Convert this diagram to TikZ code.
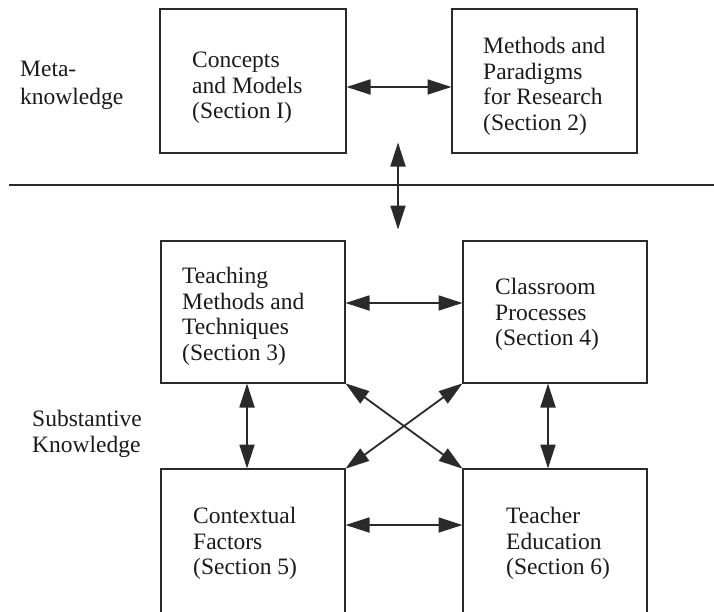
\documentclass[tikz,border=0pt]{standalone}
\usepackage{fontspec}
\setmainfont{Liberation Serif}
\usetikzlibrary{arrows.meta}
\definecolor{ink}{HTML}{2A2A2A}
\definecolor{txt}{HTML}{1A1A1A}
\tikzset{
  box/.style={draw=ink, line width=2.6pt, rectangle, inner sep=0pt, outer sep=0pt},
  lbl/.style={anchor=north west, inner sep=0pt, align=left, text=txt,
              font=\fontsize{23.5}{25.5}\selectfont},
  arr/.style={draw=ink, line width=1.8pt, {Triangle[length=24pt,width=15pt]}-{Triangle[length=24pt,width=15pt]}, shorten <=0.5pt, shorten >=0.5pt},
  rule/.style={draw=ink, line width=2.6pt}
}
\begin{document}
\begin{tikzpicture}[x=1pt,y=-1pt]
\useasboundingbox (0,0) rectangle (714,611);
% boxes
\node[box, minimum width=186pt, minimum height=144pt] (concepts) at (253,81) {};
\node[box, minimum width=185pt, minimum height=144pt] (methods) at (544.5,81) {};
\node[box, minimum width=184pt, minimum height=142pt] (teaching) at (253,312) {};
\node[box, minimum width=184pt, minimum height=142pt] (classroom) at (555,312) {};
\node[box, minimum width=184pt, minimum height=151pt] (context) at (253,544.5) {};
\node[box, minimum width=184pt, minimum height=151pt] (teacher) at (555,544.5) {};
% box texts
\node[lbl] (tconcepts) at (192,52) {Concepts\\and Models\\(Section I)};
\node[lbl] (tmethods) at (483,37) {Methods and\\Paradigms\\for Research\\(Section 2)};
\node[lbl] (tteaching) at (182,267) {Teaching\\Methods and\\Techniques\\(Section 3)};
\node[lbl] (tclassroom) at (495,278) {Classroom\\Processes\\(Section 4)};
\node[lbl] (tcontext) at (193,507) {Contextual\\Factors\\(Section 5)};
\node[lbl] (tteacher) at (506,507) {Teacher\\Education\\(Section 6)};
% side labels
\node[lbl, font=\fontsize{23.5}{28}\selectfont] (meta) at (20,61) {Meta-\\knowledge};
\node[lbl] (subst) at (32,410) {Substantive\\Knowledge};
% divider
\coordinate (ruleL) at (9,185);
\coordinate (ruleR) at (714,185);
\draw[rule] (ruleL) -- (ruleR);
% central vertical arrow
\coordinate (vtop) at (398,142);
\coordinate (vbot) at (398,230);
\draw[arr] (vtop) -- (vbot);
% connectors
\draw[arr] ([yshift=-6pt]concepts.east) -- ([yshift=-6pt]methods.west);
\draw[arr] ([yshift=9pt]teaching.east) -- ([yshift=9pt]classroom.west);
\draw[arr] ([yshift=19.5pt]context.east) -- ([yshift=19.5pt]teacher.west);
\draw[arr] ([xshift=-6pt]teaching.south) -- ([xshift=-6pt]context.north);
\draw[arr] ([xshift=-7pt]classroom.south) -- ([xshift=-7pt]teacher.north);
\draw[arr] (teaching.south east) -- (teacher.north west);
\draw[arr] (classroom.south west) -- (context.north east);
\end{tikzpicture}
\end{document}
